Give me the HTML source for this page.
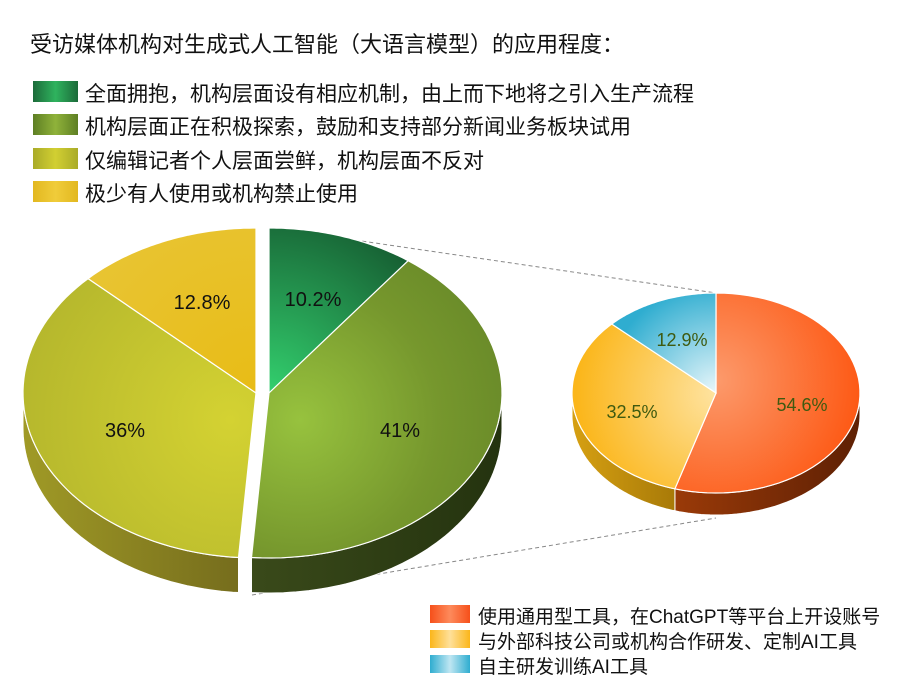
<!DOCTYPE html>
<html><head><meta charset="utf-8"><style>
body{margin:0;width:901px;height:684px;background:#fff;overflow:hidden;font-family:"Liberation Sans","Noto Sans CJK SC",sans-serif;}
.t{position:absolute;color:#111;white-space:nowrap}
.sw{position:absolute}
</style></head><body>
<div class="t" style="left:30px;top:27px;font-size:22px">受访媒体机构对生成式人工智能（大语言模型）的应用程度：</div>
<div class="sw" style="left:33px;top:81px;width:45px;height:21px;background:linear-gradient(90deg,#1c6b3a,#2fb35e,#1c6b3a)"></div>
<div class="t" style="left:85px;top:78px;font-size:21px">全面拥抱，机构层面设有相应机制，由上而下地将之引入生产流程</div>
<div class="sw" style="left:33px;top:114px;width:45px;height:21px;background:linear-gradient(90deg,#5e7f24,#8fb23a,#5e7f24)"></div>
<div class="t" style="left:85px;top:111px;font-size:21px">机构层面正在积极探索，鼓励和支持部分新闻业务板块试用</div>
<div class="sw" style="left:33px;top:148px;width:45px;height:21px;background:linear-gradient(90deg,#a9ab28,#d2cf32,#a9ab28)"></div>
<div class="t" style="left:85px;top:145px;font-size:21px">仅编辑记者个人层面尝鲜，机构层面不反对</div>
<div class="sw" style="left:33px;top:181px;width:45px;height:21px;background:linear-gradient(90deg,#e2b820,#f0cc3a,#e2b820)"></div>
<div class="t" style="left:85px;top:178px;font-size:21px">极少有人使用或机构禁止使用</div>

<svg id="s" width="901" height="684" style="position:absolute;left:0;top:0">
<defs>
<radialGradient id="g1" cx="269" cy="393" r="200" gradientUnits="userSpaceOnUse"><stop offset="0" stop-color="#33d06e"/><stop offset="1" stop-color="#155a30"/></radialGradient>
<radialGradient id="g2" cx="300" cy="420" r="230" gradientUnits="userSpaceOnUse"><stop offset="0" stop-color="#97c23e"/><stop offset="0.6" stop-color="#76972d"/><stop offset="1" stop-color="#678828"/></radialGradient>
<radialGradient id="g3" cx="230" cy="420" r="230" gradientUnits="userSpaceOnUse"><stop offset="0" stop-color="#d4d232"/><stop offset="1" stop-color="#b3b52c"/></radialGradient>
<radialGradient id="g4" cx="256" cy="393" r="200" gradientUnits="userSpaceOnUse"><stop offset="0" stop-color="#e8bc16"/><stop offset="1" stop-color="#e8c432"/></radialGradient>
<linearGradient id="sR" x1="250" x2="502" y1="0" y2="0" gradientUnits="userSpaceOnUse"><stop offset="0" stop-color="#3a4a1a"/><stop offset="1" stop-color="#24330f"/></linearGradient>
<linearGradient id="sL" x1="23" x2="252" y1="0" y2="0" gradientUnits="userSpaceOnUse"><stop offset="0" stop-color="#a09a26"/><stop offset="1" stop-color="#736a1c"/></linearGradient>
<radialGradient id="h1" cx="716" cy="380" r="150" gradientUnits="userSpaceOnUse"><stop offset="0" stop-color="#fc9a6c"/><stop offset="1" stop-color="#fd5712"/></radialGradient>
<radialGradient id="h2" cx="716" cy="393" r="140" gradientUnits="userSpaceOnUse"><stop offset="0" stop-color="#fee3a0"/><stop offset="1" stop-color="#fbb61a"/></radialGradient>
<radialGradient id="h3" cx="716" cy="393" r="110" gradientUnits="userSpaceOnUse"><stop offset="0" stop-color="#eaf7fb"/><stop offset="1" stop-color="#2fadd0"/></radialGradient>
<linearGradient id="sO" x1="675" x2="860" y1="0" y2="0" gradientUnits="userSpaceOnUse"><stop offset="0" stop-color="#9a3a08"/><stop offset="1" stop-color="#5e2004"/></linearGradient>
<linearGradient id="sY" x1="572" x2="675" y1="0" y2="0" gradientUnits="userSpaceOnUse"><stop offset="0" stop-color="#d6a012"/><stop offset="1" stop-color="#a87a08"/></linearGradient>
</defs>
<line x1="300" y1="232" x2="716" y2="293" stroke="#888" stroke-dasharray="4,3"/>
<line x1="252" y1="595" x2="716" y2="518" stroke="#888" stroke-dasharray="4,3"/>
<g id="pies"></g>
<g font-family="Liberation Sans, sans-serif" font-size="20" fill="#111" text-anchor="middle">
<text x="313" y="306">10.2%</text>
<text x="400" y="437">41%</text>
<text x="125" y="437">36%</text>
<text x="202" y="309">12.8%</text>
</g>
<g font-family="Liberation Sans, sans-serif" font-size="18" fill="#3e5a10" text-anchor="middle">
<text x="802" y="411">54.6%</text>
<text x="632" y="418">32.5%</text>
<text x="682" y="346">12.9%</text>
</g>
</svg>
<div class="sw" style="left:430px;top:605px;width:40px;height:18px;background:linear-gradient(90deg,#f6501a,#fd8a5c,#f6501a)"></div>
<div class="t" style="left:478px;top:602px;font-size:19px">使用通用型工具，在ChatGPT等平台上开设账号</div>
<div class="sw" style="left:430px;top:630px;width:40px;height:18px;background:linear-gradient(90deg,#fbb61a,#fee09a,#fbb61a)"></div>
<div class="t" style="left:478px;top:627px;font-size:19px">与外部科技公司或机构合作研发、定制AI工具</div>
<div class="sw" style="left:430px;top:655px;width:40px;height:18px;background:linear-gradient(90deg,#2fadd0,#bfe6f2,#2fadd0)"></div>
<div class="t" style="left:478px;top:652px;font-size:19px">自主研发训练AI工具</div>
<script>
function P(cx,cy,rx,ry,t){t=t*Math.PI/180;return [cx+rx*Math.sin(t),cy-ry*Math.cos(t)];}
function arc(cx,cy,rx,ry,a,b,dy){var p=[];for(var t=a;t<=b+0.001;t+=(b-a)/60){var q=P(cx,cy+dy,rx,ry,t);p.push(q[0].toFixed(1)+','+q[1].toFixed(1));}return p;}
var out='';
function slice(cx,cy,rx,ry,a,b,f){out+='<path d="M'+cx+','+cy+' L'+arc(cx,cy,rx,ry,a,b,0).join(' L')+' Z" fill="'+f+'" stroke="#fff" stroke-width="1.2"/>';}
function side(cx,cy,rx,ry,a,b,d,f){var top=arc(cx,cy,rx,ry,a,b,0),bot=arc(cx,cy,rx,ry,a,b,d).reverse();out+='<path d="M'+top.join(' L')+' L'+bot.join(' L')+' Z" fill="'+f+'" stroke="#fff" stroke-width="1"/>';}
side(269,393,233,165,90,184.3,35,'url(#sR)');
side(256,393,233,165,184.3,270,35,'url(#sL)');
slice(269,393,233,165,0,36.7,'url(#g1)');
slice(269,393,233,165,36.7,184.3,'url(#g2)');
slice(256,393,233,165,184.3,313.9,'url(#g3)');
slice(256,393,233,165,313.9,360,'url(#g4)');
side(716,393,144,100,90,196.6,22,'url(#sO)');
side(716,393,144,100,196.6,270,22,'url(#sY)');
slice(716,393,144,100,0,196.6,'url(#h1)');
slice(716,393,144,100,196.6,313.6,'url(#h2)');
slice(716,393,144,100,313.6,360,'url(#h3)');
document.getElementById('pies').innerHTML=out;
</script>
</body></html>
